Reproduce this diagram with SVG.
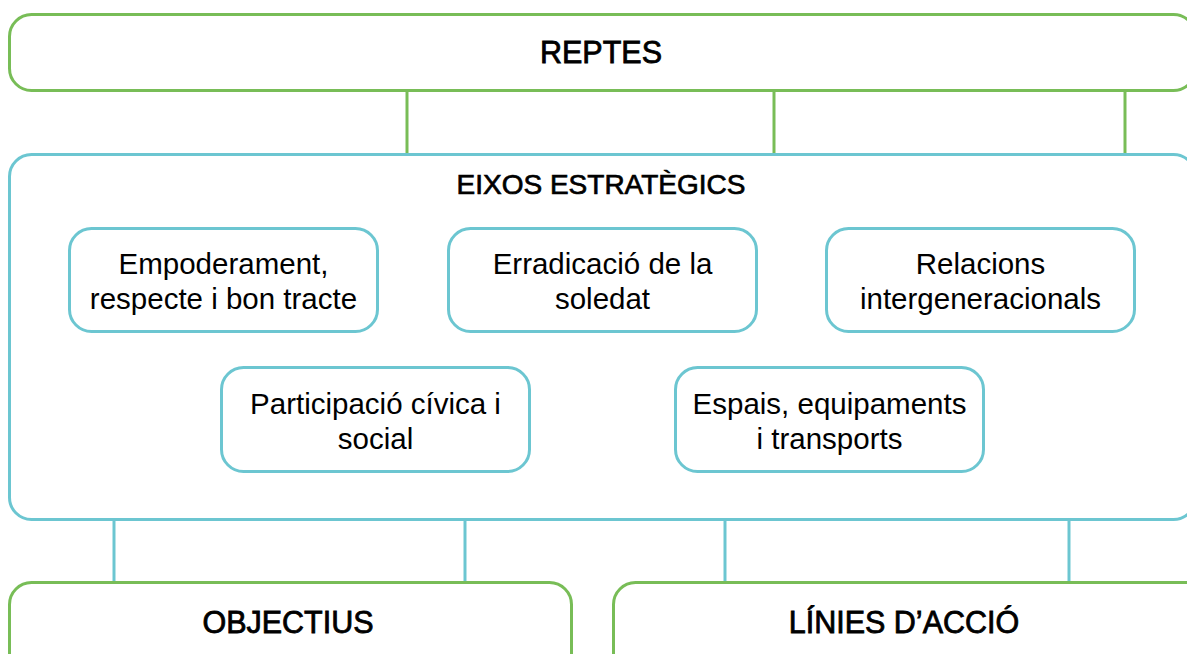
<svg xmlns="http://www.w3.org/2000/svg" width="1187" height="654" viewBox="0 0 1187 654">
<style>
.g{fill:#fff;stroke:#78bd57;stroke-width:3}
.c{fill:#fff;stroke:#6cc6d1;stroke-width:3}
.gl{stroke:#78bd57;stroke-width:3}
.cl{stroke:#6cc6d1;stroke-width:3}
text{font-family:"Liberation Sans",Arial,sans-serif;fill:#000;text-anchor:middle}
.t{font-size:30.5px;stroke:#000;stroke-width:0.8}
.h{font-size:28px;stroke:#000;stroke-width:0.7}
.b{font-size:29.5px}
</style>
<rect width="1187" height="654" fill="#fff"/>
<g id="connectors">
<line class="gl" x1="407" y1="90" x2="407" y2="154"/>
<line class="gl" x1="774" y1="90" x2="774" y2="154"/>
<line class="gl" x1="1125" y1="90" x2="1125" y2="154"/>
<line class="cl" x1="114" y1="519" x2="114" y2="582"/>
<line class="cl" x1="465" y1="519" x2="465" y2="582"/>
<line class="cl" x1="725" y1="519" x2="725" y2="582"/>
<line class="cl" x1="1069" y1="519" x2="1069" y2="582"/>
</g>
<g id="reptes">
<rect class="g" x="9.5" y="14.5" width="1186" height="76" rx="22"/>
<text class="t" x="601" y="63">REPTES</text>
</g>
<g id="eixos">
<rect class="c" x="9.5" y="154.5" width="1186" height="365" rx="22"/>
<text class="h" x="601" y="194">EIXOS ESTRATÈGICS</text>
</g>
<g id="empoderament">
<rect class="c" x="69.5" y="228.5" width="308" height="103" rx="22"/>
<text class="b" x="223.5" y="274">Empoderament,</text>
<text class="b" x="223.5" y="309">respecte i bon tracte</text>
</g>
<g id="erradicacio">
<rect class="c" x="448.5" y="228.5" width="308" height="103" rx="22"/>
<text class="b" x="602.5" y="274">Erradicació de la</text>
<text class="b" x="602.5" y="309">soledat</text>
</g>
<g id="relacions">
<rect class="c" x="826.5" y="228.5" width="308" height="103" rx="22"/>
<text class="b" x="980.5" y="274">Relacions</text>
<text class="b" x="980.5" y="309">intergeneracionals</text>
</g>
<g id="participacio">
<rect class="c" x="221.5" y="367.5" width="308" height="104" rx="22"/>
<text class="b" x="375.5" y="414">Participació cívica i</text>
<text class="b" x="375.5" y="449">social</text>
</g>
<g id="espais">
<rect class="c" x="675.5" y="367.5" width="308" height="104" rx="22"/>
<text class="b" x="829.5" y="414">Espais, equipaments</text>
<text class="b" x="829.5" y="449">i transports</text>
</g>
<g id="objectius">
<rect class="g" x="9.5" y="582.5" width="562" height="100" rx="22"/>
<text class="t" x="288" y="633">OBJECTIUS</text>
</g>
<g id="linies">
<rect class="g" x="613.5" y="582.5" width="600" height="100" rx="22"/>
<text class="t" x="904" y="633">LÍNIES D’ACCIÓ</text>
</g>
</svg>
